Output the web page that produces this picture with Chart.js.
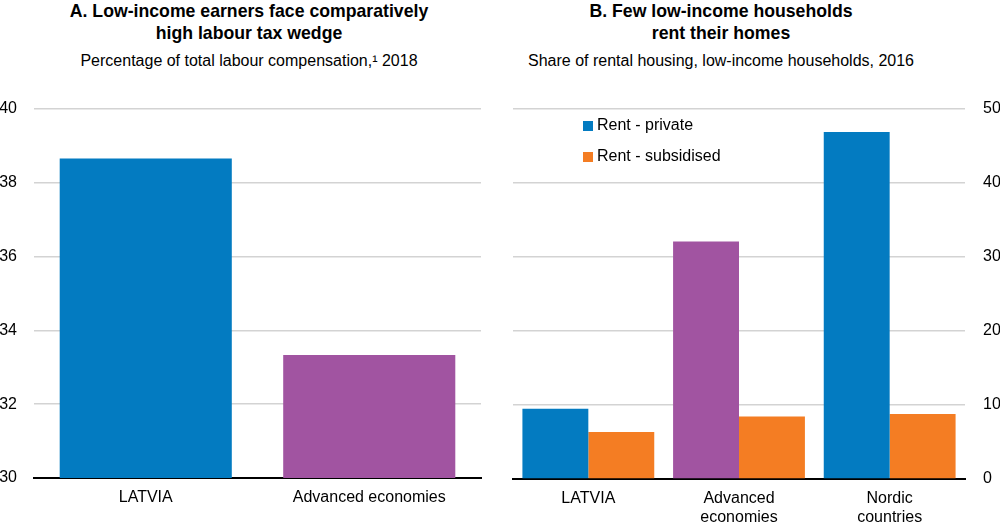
<!DOCTYPE html>
<html>
<head>
<meta charset="utf-8">
<script src="https://cdn.jsdelivr.net/npm/chart.js@4"></script>
<style>
  body { margin: 0; background: #fff; font-family: "Liberation Sans", Arial, sans-serif; }
  #wrap { position: relative; width: 1000px; height: 525px; overflow: hidden; }
  .title { position: absolute; top: 0; width: 500px; text-align: center; color: #000; }
  .title b { display: block; font-size: 19px; line-height: 22px; transform: scaleX(0.93); transform-origin: center; }
  .title span { display: block; font-size: 16px; line-height: 22px; margin-top: 6px; }
  canvas { position: absolute; top: 0; }
</style>
</head>
<body>
<div id="wrap">
  <div class="title" style="left:-1px"><b>A. Low-income earners face comparatively<br>high labour tax wedge</b><span>Percentage of total labour compensation,¹ 2018</span></div>
  <div class="title" style="left:471px"><b>B. Few low-income households<br>rent their homes</b><span>Share of rental housing, low-income households, 2016</span></div>
  <canvas id="chartA" width="490" height="525" style="left:0px"></canvas>
  <canvas id="chartB" width="510" height="525" style="left:490px"></canvas>
</div>
<script>
// Panel A data
const labelsA = ['LATVIA', 'Advanced economies'];
const taxWedge = [38.66, 33.33];

// Panel B data
const labelsB = ['LATVIA', ['Advanced', 'economies'], ['Nordic', 'countries']];
const rentPrivate = [9.5, 32.1, 46.9];
const rentSubsidised = [6.35, 8.45, 8.8];

const blue = '#037BC1';
const purple = '#A154A1';
const orange = '#F47D23';
const gridGrey = '#D3D3D3';
const fontFamily = '"Liberation Sans", Arial, sans-serif';

Chart.defaults.font.family = fontFamily;
Chart.defaults.font.size = 16;
Chart.defaults.color = '#000';

// Panel A
new Chart(document.getElementById('chartA'), {
    type: 'bar',
    data: {
        labels: labelsA,
        datasets: [{
            data: taxWedge,
            backgroundColor: [blue, purple],
            barPercentage: 0.77,
            categoryPercentage: 1
        }]
    },
    options: {
        responsive: false,
        animation: false,
        layout: { padding: { top: 109, right: 9, left: 0, bottom: 0 } },
        plugins: { legend: { display: false }, tooltip: { enabled: false } },
        scales: {
            x: {
                grid: { display: false },
                border: { color: '#000', width: 2 },
                ticks: { padding: 2, maxRotation: 0 },
                afterFit: s => { s.height = 47; }
            },
            y: {
                min: 30,
                max: 40,
                ticks: { stepSize: 2, padding: 17 },
                grid: { color: gridGrey, lineWidth: 1.5, drawTicks: false },
                border: { display: false },
                afterFit: s => { s.width = 34; }
            }
        }
    }
});

// Legend drawn inside the plot area of panel B
const insideLegend = {
    id: 'insideLegend',
    afterDraw(chart) {
        const ctx = chart.ctx;
        ctx.save();
        ctx.font = '16px ' + fontFamily;
        ctx.textBaseline = 'middle';
        chart.data.datasets.forEach((ds, i) => {
            const y = 126 + i * 31;
            ctx.fillStyle = ds.legendColor;
            ctx.fillRect(93, y - 5, 10, 10);
            ctx.fillStyle = '#000';
            ctx.fillText(ds.label, 107, y);
        });
        ctx.restore();
    }
};

// Panel B
new Chart(document.getElementById('chartB'), {
    type: 'bar',
    data: {
        labels: labelsB,
        datasets: [{
            label: 'Rent - private',
            data: rentPrivate,
            backgroundColor: [blue, purple, blue],
            legendColor: blue
        }, {
            label: 'Rent - subsidised',
            data: rentSubsidised,
            backgroundColor: orange,
            legendColor: orange
        }]
    },
    options: {
        responsive: false,
        animation: false,
        datasets: { bar: { barPercentage: 1, categoryPercentage: 0.875 } },
        layout: { padding: { top: 109, right: 0, left: 23, bottom: 0 } },
        plugins: { legend: { display: false }, tooltip: { enabled: false } },
        scales: {
            x: {
                grid: { display: false },
                border: { color: '#000', width: 2 },
                ticks: { padding: 2, maxRotation: 0 },
                afterFit: s => { s.height = 46; }
            },
            y: {
                position: 'right',
                min: 0,
                max: 50,
                ticks: { stepSize: 10, padding: 18 },
                grid: { color: gridGrey, lineWidth: 1.5, drawTicks: false },
                border: { display: false },
                afterFit: s => { s.width = 35; }
            }
        }
    },
    plugins: [insideLegend]
});
</script>
</body>
</html>
